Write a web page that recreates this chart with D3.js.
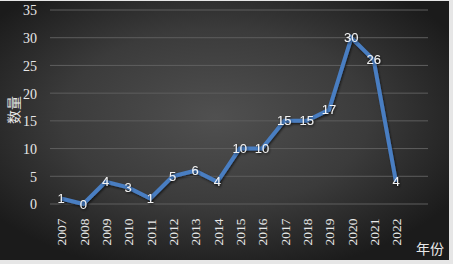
<!DOCTYPE html>
<html><head><meta charset="utf-8">
<script src="https://cdn.jsdelivr.net/npm/d3@7"></script>
<style>html,body{margin:0;padding:0;background:#d9d9d9;}svg{display:block;}</style>
</head><body>
<script>
const years = ["2007","2008","2009","2010","2011","2012","2013","2014","2015","2016","2017","2018","2019","2020","2021","2022"];
const counts = [1,0,4,3,1,5,6,4,10,10,15,15,17,30,26,4];
const yTicks = [0,5,10,15,20,25,30,35];
const yTitle = "数量";
const xTitle = "年份";

const SERIF = "'Liberation Serif', 'Times New Roman'";
const W = 453, H = 264;
const svg = d3.select("body").append("svg").attr("width", W).attr("height", H);
const defs = svg.append("defs");
const grad = defs.append("radialGradient").attr("id","bg").attr("cx","48%").attr("cy","45%").attr("r","62%");
grad.append("stop").attr("offset","0%").attr("stop-color","#505050");
grad.append("stop").attr("offset","55%").attr("stop-color","#3b3b3b");
grad.append("stop").attr("offset","100%").attr("stop-color","#1b1b1b");
const sh = defs.append("filter").attr("id","sh").attr("x","-20%").attr("y","-20%").attr("width","140%").attr("height","140%");
sh.append("feDropShadow").attr("dx",1).attr("dy",1.5).attr("stdDeviation",1.2).attr("flood-color","#000").attr("flood-opacity",0.6);

svg.append("rect").attr("x",0).attr("y",0).attr("width",W).attr("height",H).attr("fill","#e6e6e6");
svg.append("rect").attr("x",0).attr("y",1).attr("width",449).attr("height",259).attr("fill","url(#bg)");

const x = d3.scalePoint().domain(years).range([61, 396]);
const y = d3.scaleLinear().domain([0,35]).range([204, 10]);

svg.append("g").selectAll("line").data(yTicks).join("line")
  .attr("x1",50).attr("x2",428).attr("y1",d=>y(d)).attr("y2",d=>y(d))
  .attr("stroke","#5e5e5e").attr("stroke-width",1);

const yAxis = d3.axisLeft(y).tickValues(yTicks).tickSize(0).tickPadding(0);
const yg = svg.append("g").attr("transform","translate(37,0)").call(yAxis);
yg.select(".domain").remove();
yg.selectAll("text").attr("fill","#e8e8e8").style("font-family",SERIF).style("font-size","14px").attr("dy","0.35em");

const xAxis = d3.axisBottom(x).tickSize(0).tickPadding(0);
const xg = svg.append("g").attr("transform","translate(0,217)").call(xAxis);
xg.select(".domain").remove();
xg.selectAll("text").attr("fill","#e8e8e8").style("font-family",SERIF).style("font-size","13.5px")
  .attr("transform","rotate(-90)").attr("x",-28.5).attr("y",0).attr("dy","0.35em")
  .attr("text-anchor","start");

svg.append("text").attr("transform","translate(14,110) rotate(-90)").attr("text-anchor","middle").attr("dy","0.35em")
  .attr("fill","#e8e8e8").style("font-family","'Noto Sans CJK SC'").style("font-size","14px").text(yTitle);
svg.append("text").attr("x",430).attr("y",249).attr("text-anchor","middle").attr("dy","0.35em")
  .attr("fill","#e8e8e8").style("font-family","'Noto Sans CJK SC'").style("font-size","14px").text(xTitle);

const line = d3.line().x((d,i)=>x(years[i])).y(d=>y(d));
svg.append("path").datum(counts).attr("d",line).attr("fill","none")
  .attr("stroke","#4a7ec2").attr("stroke-width",4).attr("stroke-linejoin","miter").attr("filter","url(#sh)");

svg.append("g").selectAll("text").data(counts).join("text")
  .attr("x",(d,i)=>x(years[i])).attr("y",d=>y(d)).attr("dy","0.35em").attr("text-anchor","middle")
  .attr("fill","#f2f2f2").style("font-family","'Liberation Sans'").style("font-size","13px")
  .attr("filter","url(#sh)").text(d=>d);
</script>
</body></html>
